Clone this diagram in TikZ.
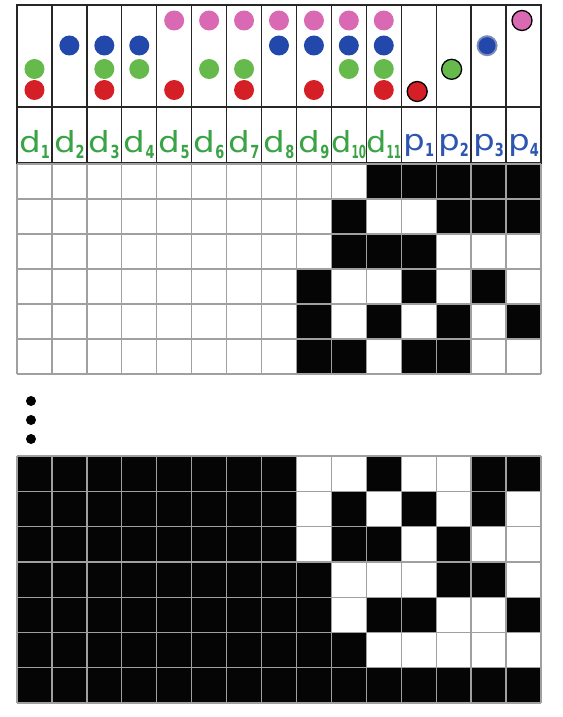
\documentclass[tikz,border=0pt]{standalone}
\usepackage{fontspec}
\setmainfont{DejaVu Sans}
\definecolor{dpink}{HTML}{DA69B4}
\definecolor{dblue}{HTML}{2148AA}
\definecolor{dgreen}{HTML}{66BA4B}
\definecolor{dred}{HTML}{D41F26}
\definecolor{lgreen}{HTML}{3AA345}
\definecolor{lblue}{HTML}{2E55B0}
\definecolor{gridgray}{HTML}{A0A0A0}
\newcommand\mylab[2]{\ifnum#2>9\scalebox{1.1}[1]{\fontsize{29}{29}\selectfont #1}\raisebox{-6pt}{\scalebox{0.58}[1]{\fontsize{18}{18}\selectfont\bfseries #2}}\else\scalebox{1.18}[1]{\fontsize{29}{29}\selectfont #1}\raisebox{-6pt}{\scalebox{0.72}[1]{\fontsize{18}{18}\selectfont\bfseries #2}}\fi}
\tikzset{
  tabline/.style={draw=black!85, line width=1.3pt},
  gridline/.style={draw=gridgray, line width=1.3pt},
  cellfill/.style={fill=black!98},
  dot/.style={circle, minimum size=20pt, inner sep=0pt},
  pdot/.style={circle, minimum size=20pt, inner sep=0pt, draw=black, line width=1.3pt},
  lab/.style={anchor=base, inner sep=0pt},
  vdot/.style={circle, fill=black, minimum size=10pt, inner sep=0pt}
}
\begin{document}
\begin{tikzpicture}[x=1pt,y=-1pt]
\useasboundingbox (0,0) rectangle (562,717);
\def\cw{34.93}
% ---- top table ----
% dots
\foreach \c/\list in {1/{g,r},2/{b},3/{b,g,r},4/{b,g},5/{p,r},6/{p,g},7/{p,g,r},8/{p,b},9/{p,b,r},10/{p,b,g},11/{p,b,g,r}}{
  \foreach \k in \list {
    \if p\k \node[dot, fill=dpink] (dot\c\k) at ({17+\cw*(\c-0.5)},20.5) {};\fi
    \if b\k \node[dot, fill=dblue] (dot\c\k) at ({17+\cw*(\c-0.5)},45.5) {};\fi
    \if g\k \node[dot, fill=dgreen] (dot\c\k) at ({17+\cw*(\c-0.5)},69) {};\fi
    \if r\k \node[dot, fill=dred] (dot\c\k) at ({17+\cw*(\c-0.5)},90) {};\fi
  }
}
\node[pdot, fill=dred] (pd1) at ({17+\cw*11.5-1.5},91.5) {};
\node[pdot, fill=dgreen] (pd2) at ({17+\cw*12.5-2},69.3) {};
\node[circle, minimum size=21pt, inner sep=0pt, fill=dblue!60!gray!70] (pd3blur) at ({17+\cw*13.5-1.5},45.7) {};
\node[dot, minimum size=17pt, fill=dblue] (pd3) at ({17+\cw*13.5-1.5},45.7) {};
\node[pdot, fill=dpink] (pd4) at ({17+\cw*14.5-1.5},20.5) {};
% labels
\foreach \c in {1,...,11}{
  \node[lab, text=lgreen] (d\c) at ({17+\cw*(\c-0.5)},152) {\mylab{d}{\c}};
}
\foreach \c in {1,...,4}{
  \node[lab, text=lblue] (p\c) at ({17+\cw*(\c+10.5)},150) {\mylab{p}{\c}};
}
% table lines
\foreach \c in {1,...,14}{
  \draw[tabline] ({17+\cw*\c},5) -- ({17+\cw*\c},163);
}
\draw[tabline] (17,107) -- (541,107);
\draw[tabline] (17,5) rectangle (541,163);
% ---- grid 1 ----
\foreach \r/\cols in {1/{11,12,13,14,15},2/{10,13,14,15},3/{10,11,12},4/{9,12,14},5/{9,11,13,15},6/{9,10,12,13}}{
  \foreach \c in \cols {
    \fill[cellfill] ({17+\cw*(\c-1)},{164+35*(\r-1)}) rectangle ++(\cw,35);
  }
}
\foreach \r in {0,...,6}{ \draw[gridline] (17,{164+35*\r}) -- (541,{164+35*\r}); }
\foreach \c in {0,...,15}{ \draw[gridline] ({17+\cw*\c},164) -- ({17+\cw*\c},374); }
% ---- vertical dots ----
\node[vdot] (v1) at (31,401) {};
\node[vdot] (v2) at (31,420) {};
\node[vdot] (v3) at (31,439) {};
% ---- grid 2 ----
\def\rh{35.29}
\foreach \r/\cols in {1/{1,2,3,4,5,6,7,8,11,14,15},2/{1,2,3,4,5,6,7,8,10,12,14},3/{1,2,3,4,5,6,7,8,10,11,13},4/{1,2,3,4,5,6,7,8,9,13,14},5/{1,2,3,4,5,6,7,8,9,11,12,15},6/{1,2,3,4,5,6,7,8,9,10},7/{1,2,3,4,5,6,7,8,9,10,11,12,13,14,15}}{
  \foreach \c in \cols {
    \fill[cellfill] ({17+\cw*(\c-1)},{456+\rh*(\r-1)}) rectangle ++(\cw,\rh);
  }
}
\foreach \r in {0,...,7}{ \draw[gridline] (17,{456+\rh*\r}) -- (541,{456+\rh*\r}); }
\foreach \c in {0,...,15}{ \draw[gridline] ({17+\cw*\c},456) -- ({17+\cw*\c},703); }
\end{tikzpicture}
\end{document}
